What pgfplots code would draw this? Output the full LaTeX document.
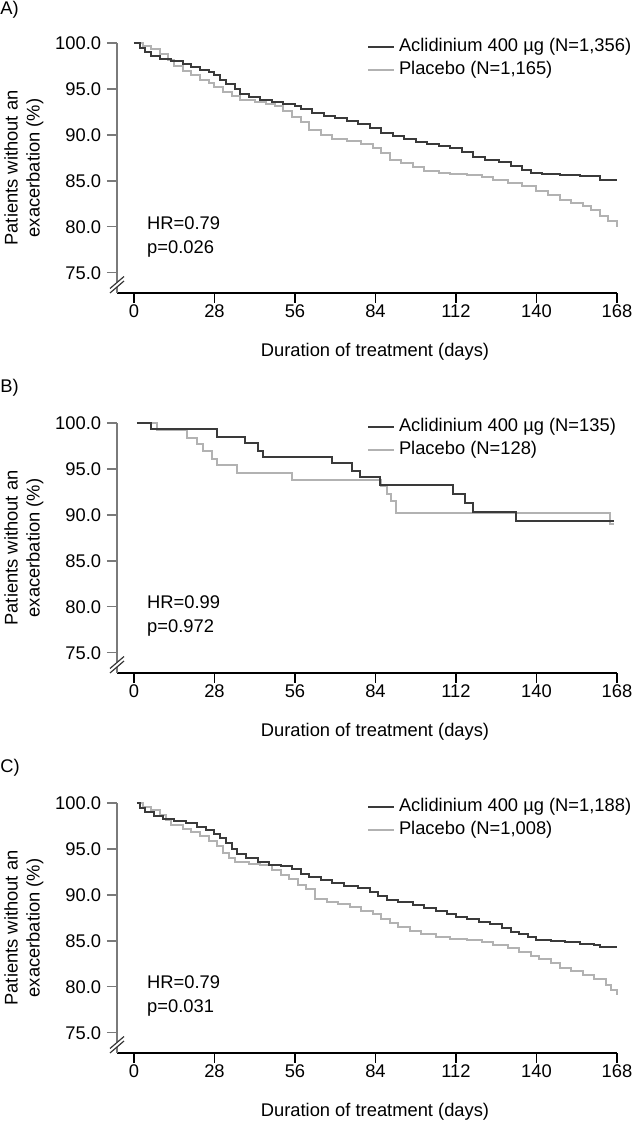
\documentclass[border=0pt]{standalone}
\usepackage{fontspec}
\setmainfont{Liberation Sans}
\usepackage{pgfplots}
\pgfplotsset{compat=1.18}

\definecolor{darkc}{HTML}{3A3A3A}
\definecolor{lightc}{HTML}{B2B2B2}
\definecolor{axgray}{HTML}{7A7A7A}

\pgfplotsset{km/.style={
  scale only axis, width=300pt, height=150pt,
  xmin=-5.9, xmax=168, ymin=72.8, ymax=100,
  axis lines=left, axis line style={-},
  x axis line style={black, line width=0.8pt},
  y axis line style={axgray, line width=0.8pt},
  xtick={0,28,...,168}, ytick={75,80,...,100},
  tick align=outside, major tick length=6pt,
  xtick style={black, line width=0.8pt},
  ytick style={axgray, line width=0.8pt},
  yticklabel style={/pgf/number format/.cd, fixed, fixed zerofill, precision=1},
  xticklabel style={yshift=2.5pt},
  /pgf/number format/assume math mode=true,
  tick label style={font=\fontsize{11}{13}\selectfont, text=black},
  label style={font=\fontsize{11}{13.2}\selectfont},
  ylabel={Patients without an\\exacerbation (\%)},
  ylabel style={align=center, at={(axis description cs:-0.186,0.5)}, anchor=center},
  xlabel={Duration of treatment (days)},
  xlabel style={at={(axis description cs:0.516,-0.236)}, anchor=center},
  clip=false,
  legend style={draw=none, fill=none, at={(axis description cs:0.5,1)}, anchor=north west,
    yshift=2.8pt, inner sep=0pt, outer sep=0pt, row sep=3.3pt,
    font=\fontsize{11}{13}\selectfont,
    nodes={inner ysep=0pt, inner xsep=2.4pt, text height=8pt, text depth=2.5pt}},
  legend cell align=left,
  legend image code/.code={\draw[##1] (0pt,0pt) -- (15.6pt,0pt);},
}}

\newcommand{\brk}{%
  \fill[white] ([shift={(-4.2pt,-3.6pt)}]axis description cs:0,0.024) -- ([shift={(4.2pt,3.6pt)}]axis description cs:0,0.024)
     -- ([shift={(4.2pt,3.6pt)}]axis description cs:0,0.042) -- ([shift={(-4.2pt,-3.6pt)}]axis description cs:0,0.042) -- cycle;
  \draw[black!80, line width=0.7pt] ([shift={(-4.2pt,-3.6pt)}]axis description cs:0,0.024) -- ([shift={(4.2pt,3.6pt)}]axis description cs:0,0.024);
  \draw[black!80, line width=0.7pt] ([shift={(-4.2pt,-3.6pt)}]axis description cs:0,0.042) -- ([shift={(4.2pt,3.6pt)}]axis description cs:0,0.042);
}

\begin{document}
\begin{tikzpicture}
\useasboundingbox (0,0) rectangle (380.4pt,676.2pt);

% ---------------- Panel A ----------------
\node[anchor=west, inner sep=0pt, font=\fontsize{11}{13}\selectfont] at (0pt,670.2pt) {A)};
\begin{axis}[km, at={(70.2pt,500.4pt)}, anchor=south west]
\addlegendimage{darkc, line width=1.2pt}
\addlegendentry{Aclidinium 400 µg (N=1,356)}
\addlegendimage{lightc, line width=1.2pt}
\addlegendentry{Placebo (N=1,165)}
\addplot[const plot, lightc, line width=1.2pt, forget plot] coordinates {
(0,100)(3,99.7)(6,99.3)(9,98.8)(12,98.1)(14,97.5)(17,97.0)(20,96.5)(23,96.0)(26,95.6)(28,95.2)(31,94.7)(34,94.2)(37,93.8)
(42,93.6)(46,93.4)(49,93.1)(52,92.6)(55,92.0)(58,91.4)(61,90.5)(65,90.0)(69,89.6)(74,89.3)(79,89.0)(83,88.6)(86,88.0)
(89,87.3)(93,86.9)(97,86.5)(101,86.1)(106,85.8)(110,85.7)(116,85.6)(121,85.4)(125,85.1)(130,84.8)(135,84.4)(140,83.9)
(144,83.5)(148,82.9)(152,82.6)(156,82.3)(159,81.8)(162,81.2)(165,80.6)(168,80.0)};
\addplot[const plot, darkc, line width=1.2pt, forget plot] coordinates {
(0,100)(2,99.5)(4,99.0)(6,98.6)(9,98.3)(13,98.0)(17,97.7)(20,97.4)(23,97.1)(26,96.8)(28,96.5)(30,96.0)(32,95.5)(35,95.0)
(37,94.5)(40,94.1)(44,93.8)(48,93.6)(52,93.4)(56,93.1)(58,92.8)(62,92.4)(66,92.1)(70,91.8)(74,91.5)(78,91.2)(82,90.7)
(86,90.2)(90,89.9)(94,89.6)(98,89.2)(102,89.0)(106,88.8)(110,88.6)(114,88.1)(118,87.6)(122,87.3)(127,87.0)(131,86.6)
(135,86.2)(138,85.9)(142,85.7)(148,85.6)(155,85.5)(162,85.1)(168,85.1)};
\node[anchor=west, align=left, inner sep=0pt, font=\fontsize{11}{14.4}\selectfont] at (axis cs:4.5,78.9) {HR=0.79\\p=0.026};
\brk
\end{axis}

% ---------------- Panel B ----------------
\node[anchor=west, inner sep=0pt, font=\fontsize{11}{13}\selectfont] at (0pt,443.4pt) {B)};
\begin{axis}[km, at={(70.2pt,272.4pt)}, anchor=south west]
\addlegendimage{darkc, line width=1.2pt}
\addlegendentry{Aclidinium 400 µg (N=135)}
\addlegendimage{lightc, line width=1.2pt}
\addlegendentry{Placebo (N=128)}
\addplot[const plot, lightc, line width=1.2pt, forget plot] coordinates {
(1,100)(8,99.2)(18.5,98.4)(22,97.7)(24,96.9)(27,96.1)(29,95.4)(36,94.6)(55,93.8)(86,93.1)(88,92.3)(89.5,91.5)(91.3,90.2)
(165.5,89.0)(167,89.0)};
\addplot[const plot, darkc, line width=1.2pt, forget plot] coordinates {
(1,100)(6,99.3)(29,98.5)(38.6,97.8)(43,97.0)(45,96.3)(69,95.6)(76,94.8)(78.6,94.1)(85.6,93.3)(111,92.3)(115,91.3)
(118,90.3)(133,89.3)(167,89.3)};
\node[anchor=west, align=left, inner sep=0pt, font=\fontsize{11}{14.4}\selectfont] at (axis cs:4.5,79.0) {HR=0.99\\p=0.972};
\brk
\end{axis}

% ---------------- Panel C ----------------
\node[anchor=west, inner sep=0pt, font=\fontsize{11}{13}\selectfont] at (0pt,215.4pt) {C)};
\begin{axis}[km, at={(70.2pt,44.4pt)}, anchor=south west]
\addlegendimage{darkc, line width=1.2pt}
\addlegendentry{Aclidinium 400 µg (N=1,188)}
\addlegendimage{lightc, line width=1.2pt}
\addlegendentry{Placebo (N=1,008)}
\addplot[const plot, lightc, line width=1.2pt, forget plot] coordinates {
(1,100)(3,99.6)(6,99.2)(9,98.7)(11,98.1)(13,97.6)(17,97.2)(20,96.8)(23,96.4)(26,95.9)(29,95.3)(31,94.6)(33,94.0)(35,93.6)
(40,93.4)(44,93.2)(48,92.7)(51,92.2)(54,91.7)(57,91.1)(60,90.6)(63,89.6)(67,89.2)(71,89.0)(75,88.7)(79,88.3)(83,87.9)
(86,87.4)(89,86.9)(92,86.5)(96,86.1)(100,85.7)(105,85.4)(110,85.2)(116,85.1)(121,84.9)(125,84.6)(130,84.2)(134,83.8)
(138,83.4)(141,83.0)(145,82.6)(148,82.0)(152,81.7)(156,81.3)(160,80.8)(164,80.2)(166,79.6)(168,79.1)};
\addplot[const plot, darkc, line width=1.2pt, forget plot] coordinates {
(1,100)(2,99.5)(4,99.0)(7,98.6)(10,98.3)(14,98.0)(18,97.8)(22,97.4)(25,97.1)(28,96.6)(30,96.2)(32,95.6)(34,95.0)(36,94.5)
(39,94.0)(43,93.6)(47,93.3)(51,93.1)(55,92.8)(58,92.3)(61,91.9)(65,91.6)(69,91.3)(73,91.0)(78,90.7)(82,90.3)(85,89.9)
(88,89.5)(92,89.2)(97,88.9)(101,88.6)(105,88.3)(109,87.9)(112,87.6)(116,87.4)(120,87.1)(124,86.8)(128,86.4)(131,86.0)
(134,85.7)(137,85.4)(140,85.1)(145,85.0)(150,84.9)(155,84.7)(160,84.5)(162,84.3)(168,84.3)};
\node[anchor=west, align=left, inner sep=0pt, font=\fontsize{11}{14.4}\selectfont] at (axis cs:4.5,79.0) {HR=0.79\\p=0.031};
\brk
\end{axis}
\end{tikzpicture}
\end{document}
